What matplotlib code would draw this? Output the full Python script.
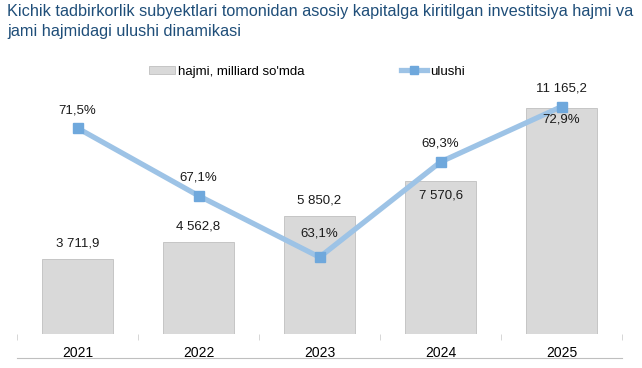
import matplotlib
matplotlib.use('Agg')
import matplotlib.pyplot as plt
from matplotlib.lines import Line2D

plt.rcParams['font.family'] = ['Liberation Sans', 'DejaVu Sans']

years = ['2021', '2022', '2023', '2024', '2025']
volume = [3711.9, 4562.8, 5850.2, 7570.6, 11165.2]
share = [71.5, 67.1, 63.1, 69.3, 72.9]

volume_labels = ['3 711,9', '4 562,8', '5 850,2', '7 570,6', '11 165,2']
share_labels = ['71,5%', '67,1%', '63,1%', '69,3%', '72,9%']

# label offsets in points (bar labels, line labels)
vol_off = [11, 11, 11, -11, 14]
share_off = [13, 13, 17, 13, -9]

fig = plt.figure(figsize=(6.42, 3.68), dpi=100)
ax = fig.add_axes([0.0265, 0.0924, 0.9425, 0.663])
ax2 = ax.twinx()

x = range(len(years))
ax.bar(x, volume, width=0.587, color='#D9D9D9', edgecolor='#BFBFBF', linewidth=0.6)
ax.set_ylim(0, 12050)
ax.set_xlim(-0.5, 4.5)

ax2.plot(x, share, color='#9DC3E6', linewidth=3.8, marker='s', markersize=7,
         markerfacecolor='#6FA8DC', markeredgecolor='#6FA8DC')
ax2.set_ylim(58.1, 73.98)

for i in x:
    ax.annotate(volume_labels[i], (i, volume[i]), xytext=(0, vol_off[i]),
                textcoords='offset points', ha='center', va='center', fontsize=9.5, color='#1a1a1a')
    ax2.annotate(share_labels[i], (i, share[i]), xytext=(0, share_off[i]),
                 textcoords='offset points', ha='center', va='center', fontsize=9.5, color='#1a1a1a')

for a in (ax, ax2):
    for s in a.spines.values():
        s.set_visible(False)
    a.set_yticks([])

ax.set_xticks(list(x))
ax.set_xticklabels(years, fontsize=10)
ax.tick_params(axis='x', which='major', length=0, pad=9)
ax.set_xticks([-0.5, 0.5, 1.5, 2.5, 3.5, 4.5], minor=True)
ax.tick_params(axis='x', which='minor', length=4, color='#D0D0D0', width=0.6)

# bottom rule under year labels
fig.add_artist(Line2D([17 / 642, 622 / 642], [1 - 358 / 368] * 2, transform=fig.transFigure,
                      color='#BFBFBF', linewidth=0.8))

fig.text(0.011, 0.988, 'Kichik tadbirkorlik subyektlari tomonidan asosiy kapitalga kiritilgan investitsiya hajmi va\njami hajmidagi ulushi dinamikasi',
         ha='left', va='top', fontsize=11.7, color='#1F4E79', linespacing=1.38)

handles = [plt.Rectangle((0, 0), 1, 1, facecolor='#D9D9D9', edgecolor='#BFBFBF', linewidth=0.6),
           Line2D([], [], color='#9DC3E6', linewidth=3.8, marker='s', markersize=6,
                  markerfacecolor='#6FA8DC', markeredgecolor='#6FA8DC')]
fig.legend(handles, ['hajmi, milliard so\'mda', 'ulushi'], loc='center', bbox_to_anchor=(0.478, 0.805),
           ncol=2, frameon=False, fontsize=9.5, columnspacing=7.3, handlelength=2.0,
           handletextpad=0.2, handleheight=0.6)

plt.savefig('out.png', dpi=100)
